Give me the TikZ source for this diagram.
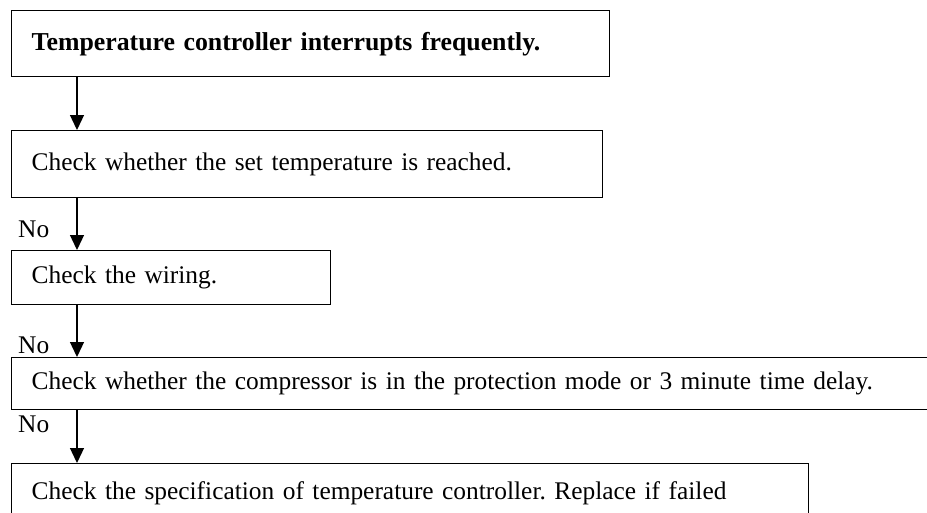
\documentclass[tikz,border=0pt]{standalone}
\usepackage{fontspec}
\setmainfont{Liberation Serif}
\usetikzlibrary{arrows.meta}
\frenchspacing

\begin{document}
\begin{tikzpicture}[x=1pt,y=-1pt,>={Triangle[length=15pt,width=14pt]},
    box/.style={draw,line width=1.4pt,anchor=north west,inner xsep=20pt,inner ysep=0pt,
      align=left,font=\fontsize{25.4pt}{30pt}\selectfont},
    lbl/.style={anchor=base west,inner sep=0pt,font=\fontsize{25.4pt}{30pt}\selectfont},
    flow/.style={->,line width=1.3pt}]
    \useasboundingbox (0,0) rectangle (927,512);
    \clip (0,0) rectangle (927,512);
    \coordinate (spine) at (77,0);
    \node[box,text width=558pt,minimum height=66pt,font=\fontsize{25.8pt}{30pt}\selectfont\bfseries] (b1) at (11,10)
      {Temperature controller interrupts frequently.};
    \node[box,text width=551pt,minimum height=67pt] (b2) at (11,130)
      {Check whether the set temperature is reached.};
    \node[box,text width=279pt,minimum height=54pt] (b3) at (11,250)
      {Check the wiring.};
    \node[box,text width=884pt,minimum height=52pt] (b4) at (11,357)
      {Check whether the compressor is in the protection mode or 3 minute time delay.};
    \node[box,text width=757pt,minimum height=60pt] (b5) at (11,463)
      {Check the specification of temperature controller. Replace if failed};
    \node[lbl] (no1) at (18,237) {No};
    \node[lbl] (no2) at (18,353) {No};
    \node[lbl] (no3) at (18,432) {No};
    \draw[flow] (b1.south -| spine) -- (b2.north -| spine);
    \draw[flow] (b2.south -| spine) -- (b3.north -| spine);
    \draw[flow] (b3.south -| spine) -- (b4.north -| spine);
    \draw[flow] (b4.south -| spine) -- (b5.north -| spine);
\end{tikzpicture}
\end{document}
